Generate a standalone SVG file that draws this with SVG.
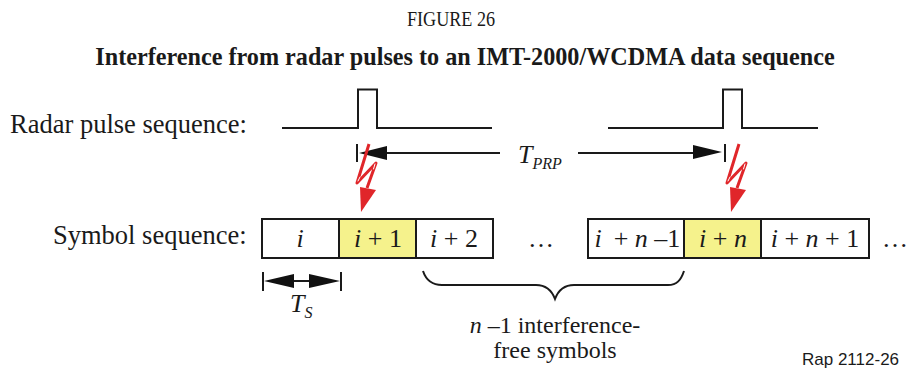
<svg xmlns="http://www.w3.org/2000/svg" width="907" height="372" viewBox="0 0 907 372">
<defs>
<style>
text{font-family:"Liberation Serif","Times New Roman",serif;fill:#1a1a1a}
.lbl{font-size:26.5px}
.cell{font-size:26px;text-anchor:middle}
.it{font-style:italic}
.line{fill:none;stroke:#1a1a1a;stroke-width:2}
.box{stroke:#1a1a1a;stroke-width:2;fill:#fff}
.hl{fill:#f5f28c}
.head{fill:#111;stroke:none}
.bolt{fill:none;stroke:#e0262a;stroke-width:3;stroke-linejoin:round}
.core{fill:none;stroke:#fff;stroke-width:1;stroke-linecap:round}
.tip{fill:#e0262a;stroke:none}
</style>
<g id="boltShape"><path class="bolt" d="M0 0L-12 39L7 19L-2 44"/><path class="core" d="M-11 37L-9 33M6 20L4.500 25"/><path class="tip" d="M-9 43L7 46L-8 68Z"/></g>
</defs>
<rect width="907" height="372" fill="#fff"/>
<text id="figure-number" x="451" y="26" font-size="21" text-anchor="middle" textLength="88" lengthAdjust="spacingAndGlyphs">FIGURE 26</text>
<text id="title" x="465" y="65" font-size="24.200" font-weight="bold" text-anchor="middle">Interference from radar pulses to an IMT-2000/WCDMA data sequence</text>
<text id="radar-label" class="lbl" x="10" y="133">Radar pulse sequence:</text>
<text id="symbol-label" class="lbl" x="53" y="244">Symbol sequence:</text>
<g id="connectors">
<path class="line" d="M282 128H358V89.500H377V128H492"/>
<path class="line" d="M608 128H723V89.500H742V128H818"/>
<path class="line" d="M357 144V162M500 153H385"/>
<path class="head" d="M359 153L387 146V160Z"/>
<path class="line" d="M725 144V162M578 153H695"/>
<path class="head" d="M722 152L693 145V159Z"/>
<path class="line" d="M263 272V291M341 272V291M285 281H320"/>
<path class="head" d="M264 281L294 274V288ZM340 281L309 274V288Z"/>
<path class="line" d="M423 271C426 280 433 285 442 285H536C546 285 552 291 555 299C558 291 564 285 574 285H668C677 285 681 280 684 271"/>
</g>
<g id="bolt-1"><use href="#boltShape" x="369" y="144"/></g>
<g id="bolt-2"><use href="#boltShape" x="739" y="144"/></g>
<g id="tprp"><text x="518" y="163" font-size="26" class="it">T<tspan font-size="16" dy="6">PRP</tspan></text></g>
<g id="ts"><text x="290" y="312" font-size="26" class="it">T<tspan font-size="16" dy="6">S</tspan></text></g>
<g id="cell-i"><rect class="box" x="262" y="219" width="78" height="39"/><text class="cell it" x="300" y="247">i</text></g>
<g id="cell-i1"><rect class="box hl" x="339" y="219" width="77" height="39"/><text class="cell" x="378" y="247"><tspan class="it">i</tspan> + 1</text></g>
<g id="cell-i2"><rect class="box" x="416" y="219" width="77" height="39"/><text class="cell" x="454" y="247"><tspan class="it">i</tspan> + 2</text></g>
<text id="dots-1" class="cell" x="541" y="247">…</text>
<g id="cell-in1"><rect class="box" x="588" y="219" width="96" height="39"/><text class="cell it" x="598" y="247">i</text><text class="cell" x="647" y="247">+ <tspan class="it">n</tspan> –1</text></g>
<g id="cell-in"><rect class="box hl" x="684" y="219" width="77" height="39"/><text class="cell" x="723" y="247"><tspan class="it">i</tspan> + <tspan class="it">n</tspan></text></g>
<g id="cell-in2"><rect class="box" x="761" y="219" width="108" height="39"/><text class="cell" x="815" y="247"><tspan class="it">i</tspan> + <tspan class="it">n</tspan> + 1</text></g>
<text id="dots-2" class="cell" x="895" y="247">…</text>
<g id="brace-label"><text class="cell" style="font-size:24px" x="555" y="333"><tspan class="it">n</tspan> –1 interference-</text><text class="cell" style="font-size:24px" x="555" y="358">free symbols</text></g>
<text id="ref" x="802" y="365" font-size="17" style="font-family:'Liberation Sans',Arial,sans-serif">Rap 2112-26</text>
</svg>
